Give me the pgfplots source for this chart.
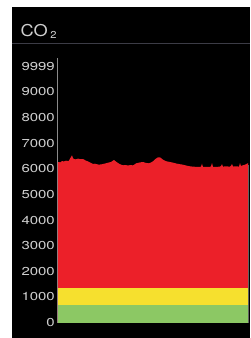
\documentclass[border=0pt]{standalone}
\usepackage{fontspec}
\setmainfont{TeX Gyre Heros}
\newfontfamily\tickfont[FakeStretch=1.3]{TeX Gyre Heros}
\newfontfamily\titlefont[FakeStretch=1.12]{TeX Gyre Heros}
\usepackage{pgfplots}
\pgfplotsset{compat=1.18}
\definecolor{cored}{HTML}{EC2029}
\definecolor{coyellow}{HTML}{F6E02E}
\definecolor{cogreen}{HTML}{8CC864}
\definecolor{labelgray}{HTML}{CFCFCF}
\definecolor{rulegray}{HTML}{3C3C46}
\definecolor{axisgray}{HTML}{8A8A8A}
\begin{document}
\begin{tikzpicture}[x=1pt,y=1pt]
\fill[white] (0,0) rectangle (250,338);
\fill[black] (12,0) rectangle (250,331);
\node[anchor=base west, inner sep=0pt, text=labelgray, font=\titlefont\fontsize{16.3}{18}\selectfont] at (20.5,301.3)
  {CO\hspace{2.5pt}\raisebox{-1.6pt}{\fontsize{10}{11}\selectfont 2}};
\draw[rulegray, line width=1pt] (12,294) -- (250,294);
\begin{axis}[
  at={(57.5pt,15.4pt)}, anchor=south west,
  scale only axis, width=190.5pt, height=264.6pt,
  xmin=57.5, xmax=248, ymin=0, ymax=10324,
  axis x line=bottom, axis y line=left,
  axis line style={draw=axisgray, line width=0.8pt, -},
  xtick=\empty,
  ytick={0,1000,2000,3000,4000,5000,6000,7000,8000,9000,9999},
  scaled y ticks=false,
  major tick length=0pt,
  /pgf/number format/assume math mode=true,
  /pgf/number format/1000 sep={},
  yticklabel style={font=\tickfont\fontsize{11.5}{12}\selectfont, text=labelgray, anchor=east, inner sep=0pt, xshift=-2.5pt},
  clip=false,
]
\addplot[fill=cored, draw=none] coordinates {
(58,6266)(59,6266)(60,6250)(62,6300)(64,6290)(66,6317)(68,6305)(69,6317)(70,6400)(72,6527)(73,6420)(74,6383)
(76,6370)(78,6400)(80,6380)(83,6383)(85,6340)(86,6317)(88,6290)(89,6266)(91,6230)(93,6188)(95,6200)(96,6188)
(99,6161)(102,6180)(104,6200)(106,6215)(108,6240)(111,6266)(113,6320)(114,6344)(116,6280)(118,6227)(120,6180)
(123,6137)(125,6150)(128,6130)(130,6145)(133,6137)(135,6180)(136,6215)(138,6230)(140,6250)(143,6266)(146,6230)
(149,6215)(151,6250)(153,6293)(155,6370)(156,6400)(158,6449)(160,6449)(162,6390)(163,6356)(166,6300)(168,6280)
(170,6266)(172,6250)(174,6230)(177,6200)(180,6180)(183,6161)(185,6140)(187,6120)(190,6098)(193,6085)(195,6080)
(197,6071)(200,6075)(201,6090)(202,6200)(203,6071)(205,6080)(207,6071)(210,6080)(211,6100)(212,6227)(213,6075)
(215,6080)(217,6071)(219,6085)(220,6090)(221,6110)(222,6180)(223,6085)(225,6095)(227,6098)(229,6085)(230,6090)
(231,6120)(232,6190)(233,6090)(235,6095)(237,6098)(239,6085)(240,6227)(241,6110)(243,6140)(245,6161)(246,6180)
(247,6200)(248,6220)
} \closedcycle;
\addplot[fill=coyellow, draw=none] coordinates {(58,1340)(248,1340)} \closedcycle;
\addplot[fill=cogreen, draw=none] coordinates {(58,690)(248,690)} \closedcycle;
\addplot[draw=axisgray!70!black, line width=0.8pt] coordinates {(248,0)(248,6150)};
\end{axis}
\end{tikzpicture}
\end{document}
